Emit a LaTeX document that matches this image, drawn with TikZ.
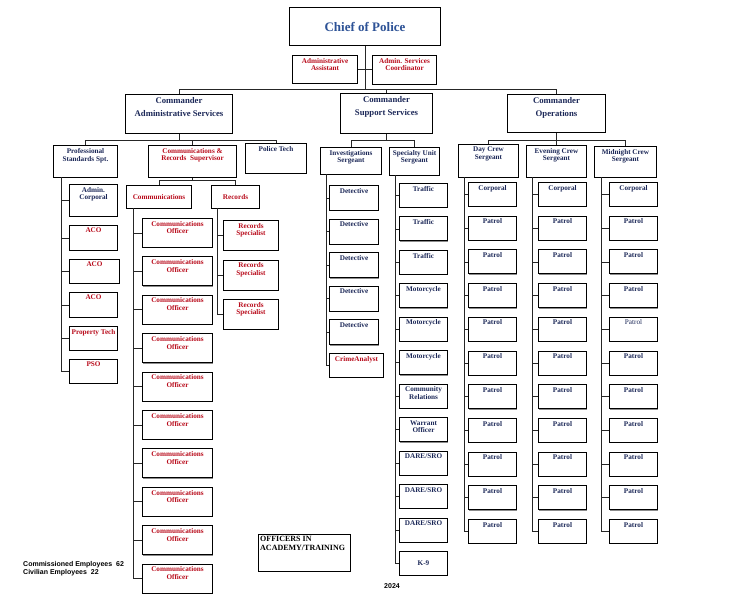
\documentclass[tikz,border=0pt]{standalone}
\usepackage{fontspec}
\setmainfont{Liberation Serif}
\setsansfont{Liberation Sans}
\usetikzlibrary{positioning,shadows}
\definecolor{orgNavy}{RGB}{28,40,88}
\definecolor{orgRed}{RGB}{185,12,28}
\definecolor{orgBlue}{RGB}{45,82,150}
\def\lblweight{\bfseries}
\tikzset{
  orgbox/.style={draw=black, line width=1pt, fill=white, inner sep=0pt, anchor=north west,
                 drop shadow={shadow xshift=0.9pt, shadow yshift=-0.9pt, fill=black!45, opacity=1}},
  sz/.style 2 args={minimum width=#1pt, minimum height=#2pt},
  lbl/.style={anchor=north, inner sep=3pt, align=center, font=\lblweight\fontsize{7.2}{7.8}\selectfont},
  navylbl/.style={label={[lbl, text=orgNavy]north:#1}},
  redlbl/.style={label={[lbl, text=orgRed]north:#1}},
  cmdlbl/.style={label={[lbl, text=orgNavy, font=\bfseries\fontsize{8.7}{13}\selectfont]north:#1}},
  ntxt/.style={text=orgNavy, align=center, font=\bfseries\fontsize{7.2}{7.8}\selectfont},
  rtxt/.style={text=orgRed, align=center, font=\bfseries\fontsize{7.2}{7.8}\selectfont},
  link/.style={draw=black!85, line width=0.8pt}
}

\begin{document}
\begin{tikzpicture}[x=1pt, y=-1pt]
\path[use as bounding box, fill=white] (0,0) rectangle (752,602);
% chief and staff
\node[orgbox, sz={151}{38}, font=\bfseries\fontsize{13}{15}\selectfont, text=orgBlue] (chief) at (289,7) {Chief of Police};
\node[orgbox, sz={65}{28}, redlbl={Administrative\\Assistant}] (aa) at (292,55) {};
\node[orgbox, sz={64}{29}, redlbl={Admin. Services\\Coordinator}] (asc) at (372,55) {};
\node[orgbox, sz={107}{39}, cmdlbl={Commander\\Administrative Services}] (cmdA) at (125,94) {};
\node[orgbox, sz={92}{40}, cmdlbl={Commander\\Support Services}] (cmdS) at (340,93) {};
\node[orgbox, sz={98}{38}, cmdlbl={Commander\\Operations}] (cmdO) at (507,94) {};
\coordinate (busT) at (0,89);
\draw[link] (chief.south) -- (chief.south |- busT);
\draw[link] (aa.east) -- (aa.east -| asc.west);
\draw[link] (cmdA.north) |- (busT -| cmdO.north) -- (cmdO.north);
\draw[link] (cmdS.north) -- (cmdS.north |- busT);

% administrative services
\node[orgbox, sz={64}{32}, navylbl={Professional\\Standards Spt.}] (pss) at (53,145) {};
\node[orgbox, sz={88}{32}, redlbl={Communications \&\\Records\ \ Supervisor}] (crs) at (148,145) {};
\node[orgbox, sz={61}{30}, navylbl={Police Tech}] (ptech) at (245,143) {};
\coordinate (busA) at (0,140);
\draw[link] (cmdA.south) -- (cmdA.south |- busA);
\draw[link] (pss.north) |- (busA -| ptech.north) -- (ptech.north);
\draw[link] (crs.north) -- (crs.north |- busA);

\node[orgbox, sz={48}{32}, navylbl={Admin.\\Corporal}] (adcp) at (69,184) {};
\node[orgbox, sz={48}{25}, redlbl=ACO] (aco1) at (69,225) {};
\node[orgbox, sz={50}{24}, redlbl=ACO] (aco2) at (69,259) {};
\node[orgbox, sz={48}{25}, redlbl=ACO] (aco3) at (69,292) {};
\node[orgbox, sz={48}{24}, redlbl={Property Tech}] (ptk) at (69,326) {};
\node[orgbox, sz={48}{24}, redlbl=PSO] (pso) at (69,359) {};
\coordinate (psRail) at (61,177);
\draw[link] (psRail) |- (pso.west);
\foreach \n in {adcp,aco1,aco2,aco3,ptk}
  \draw[link] (\n.west) -- (\n.west -| psRail);

\node[orgbox, sz={65}{23}, rtxt] (comm) at (126,185) {Communications};
\node[orgbox, sz={48}{23}, rtxt] (rec) at (211,185) {Records};
\coordinate (busC) at (0,180);
\draw[link] (crs.south) -- (crs.south |- busC);
\draw[link] (comm.north) |- (busC -| rec.north) -- (rec.north);

\foreach \i in {0,...,9}
  \node[orgbox, sz={70}{29}, redlbl={Communications\\Officer}] (co\i) at (142,{218+38.4*\i}) {};
\coordinate (coRail) at (133,208);
\draw[link] (coRail) |- (co9.west);
\foreach \i in {0,...,8}
  \draw[link] (co\i.west) -- (co\i.west -| coRail);

\foreach \i in {0,1,2}
  \node[orgbox, sz={55}{30}, redlbl={Records\\Specialist}] (rs\i) at (223,{220+39.5*\i}) {};
\coordinate (rsRail) at (217,208);
\draw[link] (rsRail) |- (rs2.west);
\foreach \i in {0,1}
  \draw[link] (rs\i.west) -- (rs\i.west -| rsRail);

% support services
\node[orgbox, sz={61}{27}, navylbl={Investigations\\Sergeant}] (invs) at (320,147) {};
\node[orgbox, sz={50}{28}, navylbl={Specialty Unit\\Sergeant}] (spus) at (389,147) {};
\coordinate (busS) at (0,140);
\draw[link] (cmdS.south) -- (cmdS.south |- busS);
\draw[link] (invs.north) |- (busS -| spus.north) -- (spus.north);

\foreach \i in {0,...,4}
  \node[orgbox, sz={49}{25}, navylbl=Detective] (dt\i) at (329,{185+33.6*\i}) {};
\node[orgbox, sz={54}{24}, redlbl=CrimeAnalyst] (cran) at (329,353) {};
\coordinate (dtRail) at (326,174);
\draw[link] (dtRail) |- (cran.west);
\foreach \i in {0,...,4}
  \draw[link] (dt\i.west) -- (dt\i.west -| dtRail);

\foreach \i/\wlabel in {0/Traffic,1/Traffic,2/Traffic,3/Motorcycle,4/Motorcycle,5/Motorcycle,
    6/{Community\\Relations},7/{Warrant\\Officer},8/{DARE/SRO},9/{DARE/SRO},10/{DARE/SRO}}
  \node[orgbox, sz={48}{24}, navylbl=\wlabel] (sp\i) at (399,{183+33.45*\i}) {};
\node[orgbox, sz={48}{24}, ntxt] (sp11) at (399,551) {K-9};
\coordinate (spRail) at (395,175);
\draw[link] (spRail) |- (sp11.west);
\foreach \i in {0,...,10}
  \draw[link] (sp\i.west) -- (sp\i.west -| spRail);

% operations
\node[orgbox, sz={60}{33}, navylbl={Day Crew\\Sergeant}] (dcs) at (458,144) {};
\node[orgbox, sz={60}{32}, navylbl={Evening Crew\\Sergeant}] (ecs) at (526,145) {};
\node[orgbox, sz={62}{31}, navylbl={Midnight Crew\\Sergeant}] (mcs) at (594,146) {};
\coordinate (busO) at (0,140);
\draw[link] (cmdO.south) -- (cmdO.south |- busO);
\draw[link] (dcs.north) |- (busO -| mcs.north) -- (mcs.north);
\draw[link] (ecs.north) -- (ecs.north |- busO);

\foreach \crew/\xb/\xr in {d/468/464, e/538/532, m/609/601} {
  \coordinate (\crew Rail) at (\xr,177);
  \node[orgbox, sz={48}{24}, navylbl=Corporal] (\crew0) at (\xb,182) {};
  \foreach \i in {1,...,10} {
    \ifnum\i=4 \if\crew m\def\lblweight{\mdseries}\fi\fi
    \node[orgbox, sz={48}{24}, navylbl=Patrol] (\crew\i) at (\xb,{182+33.7*\i}) {};
  }
  \draw[link] (\crew Rail) |- (\crew10.west);
  \foreach \i in {0,...,9}
    \draw[link] (\crew\i.west) -- (\crew\i.west -| \crew Rail);
}

% notes
\node[orgbox, sz={92}{37}, drop shadow={opacity=0},
  label={[anchor=north west, inner sep=2pt, align=left, font=\bfseries\fontsize{8}{9}\selectfont]north west:OFFICERS IN\\ACADEMY/TRAINING}] (acad) at (258,534) {};
\node[anchor=north west, align=left, inner sep=0pt, font=\sffamily\bfseries\fontsize{7}{8}\selectfont] (staff) at (23,561)
  {Commissioned Employees\ \ 62\\Civilian Employees\ \ 22};
\node[font=\sffamily\bfseries\fontsize{7}{8}\selectfont] (yr) at (392,586) {2024};
\end{tikzpicture}
\end{document}
